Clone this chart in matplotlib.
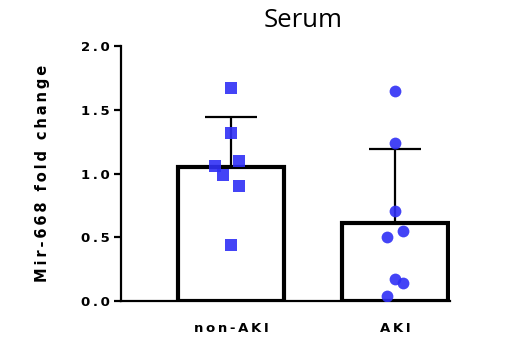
import numpy as np
import matplotlib.pyplot as plt

groups = ["non-AKI", "AKI"]
means = [1.05, 0.61]
err_up = [0.39, 0.58]

non_aki = [1.67, 1.32, 1.10, 1.06, 0.99, 0.90, 0.44]
non_aki_dx = [0.0, 0.0, 0.05, -0.1, -0.05, 0.05, 0.0]
aki = [1.65, 1.24, 0.71, 0.55, 0.50, 0.17, 0.14, 0.04]
aki_dx = [0.0, 0.0, 0.0, 0.05, -0.05, 0.0, 0.05, -0.05]

yticks = [0.0, 0.5, 1.0, 1.5, 2.0]


def spaced(s):
    return "\u2009".join(s)


fig = plt.figure(figsize=(5.05, 3.39), dpi=100)
ax = fig.add_axes([0.2396, 0.112, 0.6514, 0.752])

x = np.arange(len(groups))
ax.bar(x, means, width=0.65, facecolor="white", edgecolor="black", linewidth=3, zorder=2)
ax.errorbar(x, means, yerr=[[0, 0], err_up], fmt="none", ecolor="black",
            elinewidth=1.6, capsize=19, capthick=1.6, zorder=1)

blue = "#2f2ff5"
ax.scatter(x[0] + np.array(non_aki_dx), non_aki, marker="s", s=66, color=blue,
           alpha=0.9, zorder=3, linewidths=0)
ax.scatter(x[1] + np.array(aki_dx), aki, marker="o", s=72, color=blue,
           alpha=0.9, zorder=3, linewidths=0)

ax.set_xlim(-0.67, 1.335)
ax.set_ylim(0, 2.0)
ax.set_yticks(yticks)
ax.set_yticklabels([spaced(f"{v:.1f}") for v in yticks], fontweight="bold", fontsize=9.5)
ax.set_xticks(x)
ax.set_xticklabels([spaced(g) for g in groups], fontweight="bold", fontsize=9.5)
ax.tick_params(axis="x", length=0, pad=15)
ax.tick_params(axis="y", length=5, width=1.6, pad=3)

for side in ["top", "right"]:
    ax.spines[side].set_visible(False)
ax.spines["left"].set_linewidth(1.6)
ax.spines["bottom"].set_linewidth(1.6)

ax.set_ylabel(spaced("Mir-668 fold change"), fontweight="bold", fontsize=10.5, labelpad=22)

fig.text(0.6, 0.94, "Serum", ha="center", va="center", fontsize=18.5, family="Open Sans")

fig.savefig("out.png", dpi=100)
